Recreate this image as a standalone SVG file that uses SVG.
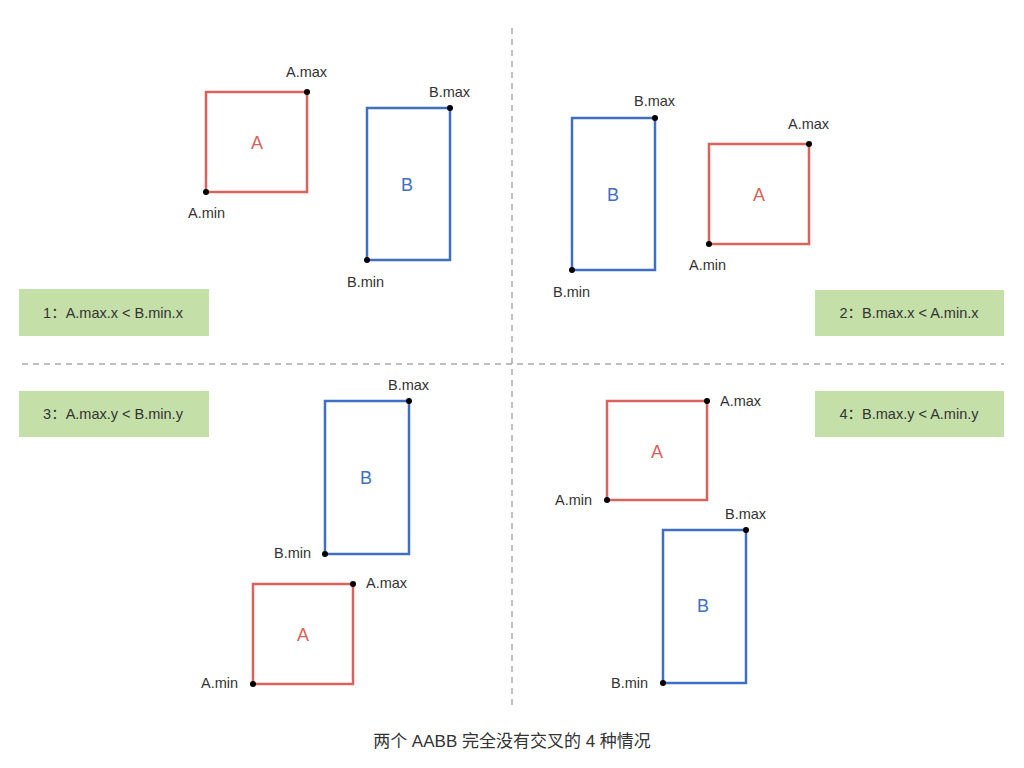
<svg xmlns="http://www.w3.org/2000/svg" width="1024" height="768" viewBox="0 0 1024 768">
<style>
text{font-family:"Liberation Sans","Noto Sans CJK SC",sans-serif;fill:#333}
.lbl{font-size:14.5px}
.ra{fill:none;stroke:#d9625a;stroke-width:2.5}
.rb{fill:none;stroke:#3d6fc4;stroke-width:2.5}
.ta{font-size:18px;fill:#d9625a;text-anchor:middle}
.tb{font-size:18px;fill:#3d6fc4;text-anchor:middle}
.dot{fill:#000}
.box{fill:#c5dfa9}
.bt{font-size:14.5px;text-anchor:middle}
.dash{stroke:#aaa;stroke-width:1.5;stroke-dasharray:6 5;fill:none}
</style>
<rect width="1024" height="768" fill="#fff"/>
<g id="dividers">
<line class="dash" x1="512" y1="28" x2="512" y2="708"/>
<line class="dash" x1="22" y1="364" x2="1004" y2="364"/>
</g>
<g id="q1">
<g id="q1A"><rect class="ra" x="206" y="92" width="101" height="100"/><text class="ta" x="257" y="149">A</text>
<circle class="dot" cx="307" cy="92" r="3"/><circle class="dot" cx="206" cy="192" r="3"/>
<text class="lbl" x="286" y="77">A.max</text><text class="lbl" x="188" y="218">A.min</text></g>
<g id="q1B"><rect class="rb" x="367" y="108" width="83" height="152"/><text class="tb" x="407" y="191">B</text>
<circle class="dot" cx="450" cy="108" r="3"/><circle class="dot" cx="367" cy="260" r="3"/>
<text class="lbl" x="429" y="97">B.max</text><text class="lbl" x="347" y="287">B.min</text></g>
<g id="box1"><rect class="box" x="19" y="289" width="190" height="47"/><text class="bt" x="113" y="318">1：A.max.x &lt; B.min.x</text></g>
</g>
<g id="q2">
<g id="q2B"><rect class="rb" x="572" y="118" width="83" height="152"/><text class="tb" x="613" y="201">B</text>
<circle class="dot" cx="655" cy="118" r="3"/><circle class="dot" cx="572" cy="270" r="3"/>
<text class="lbl" x="634" y="106">B.max</text><text class="lbl" x="553" y="297">B.min</text></g>
<g id="q2A"><rect class="ra" x="709" y="144" width="100" height="100"/><text class="ta" x="759" y="201">A</text>
<circle class="dot" cx="809" cy="144" r="3"/><circle class="dot" cx="709" cy="244" r="3"/>
<text class="lbl" x="788" y="129">A.max</text><text class="lbl" x="689" y="270">A.min</text></g>
<g id="box2"><rect class="box" x="815" y="290" width="189" height="46"/><text class="bt" x="909" y="318">2：B.max.x &lt; A.min.x</text></g>
</g>
<g id="q3">
<g id="box3"><rect class="box" x="19" y="391" width="190" height="46"/><text class="bt" x="113" y="419">3：A.max.y &lt; B.min.y</text></g>
<g id="q3B"><rect class="rb" x="325" y="401" width="84" height="153"/><text class="tb" x="366" y="484">B</text>
<circle class="dot" cx="409" cy="401" r="3"/><circle class="dot" cx="325" cy="554" r="3"/>
<text class="lbl" x="388" y="390">B.max</text><text class="lbl" x="274" y="558">B.min</text></g>
<g id="q3A"><rect class="ra" x="253" y="584" width="100" height="100"/><text class="ta" x="303" y="641">A</text>
<circle class="dot" cx="353" cy="584" r="3"/><circle class="dot" cx="253" cy="684" r="3"/>
<text class="lbl" x="366" y="588">A.max</text><text class="lbl" x="201" y="688">A.min</text></g>
</g>
<g id="q4">
<g id="q4A"><rect class="ra" x="607" y="401" width="100" height="99"/><text class="ta" x="657" y="458">A</text>
<circle class="dot" cx="707" cy="401" r="3"/><circle class="dot" cx="607" cy="500" r="3"/>
<text class="lbl" x="720" y="406">A.max</text><text class="lbl" x="555" y="505">A.min</text></g>
<g id="q4B"><rect class="rb" x="663" y="530" width="83" height="153"/><text class="tb" x="703" y="612">B</text>
<circle class="dot" cx="746" cy="530" r="3"/><circle class="dot" cx="663" cy="683" r="3"/>
<text class="lbl" x="725" y="519">B.max</text><text class="lbl" x="611" y="688">B.min</text></g>
<g id="box4"><rect class="box" x="815" y="391" width="189" height="46"/><text class="bt" x="909" y="419">4：B.max.y &lt; A.min.y</text></g>
</g>
<g id="title"><text x="512" y="747" style="font-size:17px;text-anchor:middle">两个 AABB 完全没有交叉的 4 种情况</text></g>
</svg>
